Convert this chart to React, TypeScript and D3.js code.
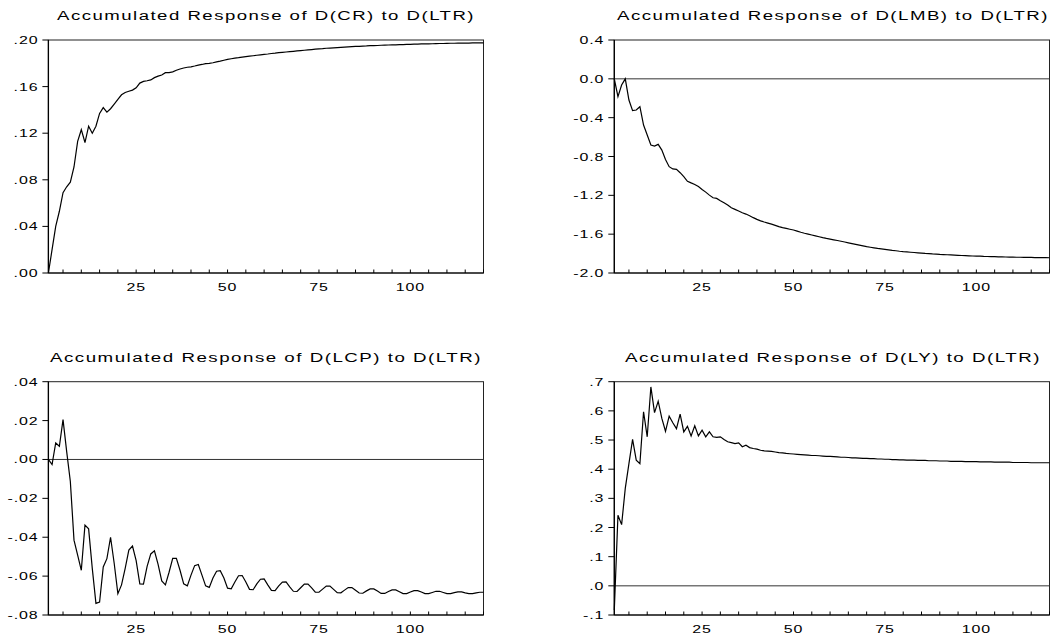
import React from "react";
import * as d3 from "d3";

// ---------- DATA ----------
const periods: number[] = Array.from({ length: 120 }, (_, i) => i + 1);

const crResponse: number[] = [
  0.000, 0.020, 0.040, 0.053, 0.069, 0.074, 0.078, 0.091, 0.113, 0.123,
  0.112, 0.126, 0.120, 0.126, 0.137, 0.142, 0.138, 0.141, 0.145, 0.149,
  0.153, 0.155, 0.156, 0.157, 0.159, 0.163, 0.1645, 0.165, 0.1657, 0.1677,
  0.169, 0.170, 0.172, 0.172, 0.1726, 0.174, 0.1751, 0.176, 0.1766, 0.177,
  0.1777, 0.1785, 0.179, 0.1797, 0.180, 0.1805, 0.1812, 0.1818, 0.1826, 0.1834,
  0.1839, 0.1844, 0.1848, 0.1853, 0.1857, 0.1861, 0.1865, 0.1869, 0.1873, 0.1877,
  0.1880, 0.1884, 0.1887, 0.1891, 0.1894, 0.1897, 0.1900, 0.1903, 0.1906, 0.1909,
  0.1912, 0.1915, 0.1918, 0.1921, 0.1924, 0.1926, 0.1929, 0.1931, 0.1933, 0.1935,
  0.1937, 0.1939, 0.1941, 0.1943, 0.1945, 0.1946, 0.1948, 0.1949, 0.1951, 0.1952,
  0.1953, 0.1955, 0.1956, 0.1957, 0.1958, 0.1959, 0.1960, 0.1961, 0.1962, 0.1963,
  0.1964, 0.1965, 0.1966, 0.1967, 0.1967, 0.1968, 0.1969, 0.1970, 0.1970, 0.1971,
  0.1972, 0.1972, 0.1973, 0.1973, 0.1974, 0.1974, 0.1975, 0.1975, 0.1976, 0.1976,
];

const lmbResponse: number[] = [
  0.000, -0.184, -0.064, 0.000, -0.218, -0.328, -0.321, -0.287, -0.476, -0.579,
  -0.682, -0.692, -0.675, -0.734, -0.830, -0.905, -0.928, -0.932, -0.967, -1.008,
  -1.055, -1.072, -1.088, -1.110, -1.140, -1.167, -1.198, -1.225, -1.232, -1.256,
  -1.277, -1.300, -1.328, -1.345, -1.362, -1.380, -1.393, -1.410, -1.430, -1.448,
  -1.463, -1.475, -1.486, -1.497, -1.509, -1.522, -1.533, -1.541, -1.549, -1.557,
  -1.568, -1.580, -1.591, -1.600, -1.609, -1.618, -1.627, -1.636, -1.644, -1.651,
  -1.658, -1.665, -1.673, -1.681, -1.689, -1.697, -1.705, -1.713, -1.721, -1.729,
  -1.735, -1.741, -1.747, -1.752, -1.757, -1.762, -1.767, -1.771, -1.776, -1.780,
  -1.783, -1.786, -1.789, -1.792, -1.795, -1.798, -1.800, -1.803, -1.805, -1.808,
  -1.810, -1.812, -1.814, -1.816, -1.818, -1.820, -1.821, -1.823, -1.825, -1.826,
  -1.827, -1.829, -1.830, -1.831, -1.832, -1.833, -1.834, -1.835, -1.836, -1.837,
  -1.838, -1.838, -1.839, -1.840, -1.840, -1.841, -1.841, -1.842, -1.842, -1.843,
];

const lcpResponse: number[] = [
  0.000, -0.0026, 0.0085, 0.0068, 0.0205, 0.004, -0.0113, -0.0415, -0.0492, -0.057,
  -0.0338, -0.0357, -0.056, -0.074, -0.0733, -0.0553, -0.051, -0.040, -0.0535, -0.069,
  -0.0645, -0.056, -0.0466, -0.0445, -0.052, -0.064, -0.0641, -0.055, -0.0486, -0.047,
  -0.054, -0.0625, -0.0645, -0.058, -0.0509, -0.0509, -0.057, -0.064, -0.065, -0.0595,
  -0.0546, -0.054, -0.0595, -0.065, -0.0658, -0.061, -0.0575, -0.0572, -0.061, -0.0662,
  -0.0665, -0.063, -0.0598, -0.0597, -0.063, -0.0668, -0.0670, -0.064, -0.0616, -0.0614,
  -0.0645, -0.0673, -0.0675, -0.065, -0.0631, -0.0630, -0.0655, -0.0678, -0.0679, -0.066,
  -0.0641, -0.0641, -0.066, -0.0682, -0.0683, -0.0667, -0.0651, -0.0651, -0.0668, -0.0685,
  -0.0686, -0.0672, -0.0659, -0.0659, -0.0673, -0.0687, -0.0688, -0.0676, -0.0666, -0.0666,
  -0.0677, -0.0689, -0.0689, -0.0679, -0.0671, -0.0671, -0.068, -0.069, -0.069, -0.0682,
  -0.0675, -0.0675, -0.0682, -0.069, -0.069, -0.0684, -0.0678, -0.0678, -0.0684, -0.069,
  -0.069, -0.0685, -0.0681, -0.0681, -0.0686, -0.069, -0.069, -0.0686, -0.0683, -0.0683,
];

const lyResponse: number[] = [
  -0.083, 0.242, 0.210, 0.334, 0.419, 0.502, 0.431, 0.419, 0.597, 0.511,
  0.682, 0.594, 0.633, 0.574, 0.530, 0.582, 0.559, 0.539, 0.589, 0.528,
  0.547, 0.514, 0.549, 0.514, 0.534, 0.511, 0.528, 0.511, 0.509, 0.511,
  0.502, 0.494, 0.491, 0.488, 0.490, 0.477, 0.482, 0.474, 0.471, 0.469,
  0.465, 0.463, 0.462, 0.461, 0.459, 0.457, 0.456, 0.454, 0.453, 0.452,
  0.451, 0.450, 0.449, 0.448, 0.447, 0.447, 0.446, 0.445, 0.444, 0.444,
  0.443, 0.442, 0.441, 0.441, 0.440, 0.439, 0.439, 0.438, 0.437, 0.437,
  0.436, 0.436, 0.435, 0.435, 0.434, 0.434, 0.433, 0.433, 0.432, 0.432,
  0.431, 0.431, 0.431, 0.430, 0.430, 0.430, 0.429, 0.429, 0.429, 0.428,
  0.428, 0.428, 0.427, 0.427, 0.427, 0.427, 0.426, 0.426, 0.426, 0.426,
  0.425, 0.425, 0.425, 0.425, 0.424, 0.424, 0.424, 0.424, 0.424, 0.423,
  0.423, 0.423, 0.423, 0.423, 0.422, 0.422, 0.422, 0.422, 0.422, 0.422,
];

const panelTitles: string[] = [
  "Accumulated Response of D(CR) to D(LTR)",
  "Accumulated Response of D(LMB) to D(LTR)",
  "Accumulated Response of D(LCP) to D(LTR)",
  "Accumulated Response of D(LY) to D(LTR)",
];

const crTicks: number[] = [0, 0.04, 0.08, 0.12, 0.16, 0.2];
const crTickLabels: string[] = [".00", ".04", ".08", ".12", ".16", ".20"];
const lmbTicks: number[] = [-2.0, -1.6, -1.2, -0.8, -0.4, 0.0, 0.4];
const lmbTickLabels: string[] = ["-2.0", "-1.6", "-1.2", "-0.8", "-0.4", "0.0", "0.4"];
const lcpTicks: number[] = [-0.08, -0.06, -0.04, -0.02, 0, 0.02, 0.04];
const lcpTickLabels: string[] = ["-.08", "-.06", "-.04", "-.02", ".00", ".02", ".04"];
const lyTicks: number[] = [-0.1, 0, 0.1, 0.2, 0.3, 0.4, 0.5, 0.6, 0.7];
const lyTickLabels: string[] = ["-.1", ".0", ".1", ".2", ".3", ".4", ".5", ".6", ".7"];

const xLabelTicks: number[] = [25, 50, 75, 100];

// ---------- LAYOUT ----------
type PanelSpec = {
  values: number[];
  title: string;
  domain: [number, number];
  ticks: number[];
  tickLabels: string[];
  zeroLine: boolean;
  left: number;
  right: number;
  top: number;
  bottom: number;
  titleX: number;
  titleW: number;
  titleY: number;
};

const panels: PanelSpec[] = [
  { values: crResponse, title: panelTitles[0], domain: [0, 0.2], ticks: crTicks, tickLabels: crTickLabels, zeroLine: false,
    left: 48.4, right: 483.5, top: 40, bottom: 273, titleX: 57, titleW: 418, titleY: 20 },
  { values: lmbResponse, title: panelTitles[1], domain: [-2.0, 0.4], ticks: lmbTicks, tickLabels: lmbTickLabels, zeroLine: true,
    left: 614.3, right: 1049.5, top: 40, bottom: 273, titleX: 617, titleW: 432, titleY: 20 },
  { values: lcpResponse, title: panelTitles[2], domain: [-0.08, 0.04], ticks: lcpTicks, tickLabels: lcpTickLabels, zeroLine: true,
    left: 48.4, right: 483.5, top: 381.7, bottom: 615, titleX: 50, titleW: 432, titleY: 362 },
  { values: lyResponse, title: panelTitles[3], domain: [-0.1, 0.7], ticks: lyTicks, tickLabels: lyTickLabels, zeroLine: true,
    left: 614.3, right: 1049.5, top: 381.7, bottom: 615, titleX: 625, titleW: 416, titleY: 362 },
];

const FONT = "'Liberation Sans', Arial, Helvetica, sans-serif";
const TICK_FS = 11;
const STRETCH = 1.45;

function Panel({ p }: { p: PanelSpec }) {
  const x = d3.scaleLinear().domain([1, 120]).range([p.left, p.right]);
  const y = d3.scaleLinear().domain(p.domain).range([p.bottom, p.top]);
  const line = d3
    .line<number>()
    .x((_, i) => x(periods[i]))
    .y((d) => y(d));
  const minorTicks = d3.range(5, 121, 5);
  return (
    <g>
      <text
        x={p.titleX}
        y={p.titleY}
        fontFamily={FONT}
        fontSize={12.5}
        letterSpacing={1}
        textLength={p.titleW}
        lengthAdjust="spacingAndGlyphs"
        fill="#000"
      >
        {p.title}
      </text>
      {/* frame */}
      <rect x={p.left} y={p.top} width={p.right - p.left} height={p.bottom - p.top} fill="none" stroke="#222" strokeWidth={1} />
      {p.zeroLine && (
        <line x1={p.left} x2={p.right} y1={y(0)} y2={y(0)} stroke="#333" strokeWidth={1} />
      )}
      {/* y ticks */}
      {p.ticks.map((t, i) => (
        <g key={"y" + i}>
          <line x1={p.left - 6} x2={p.left} y1={y(t)} y2={y(t)} stroke="#000" strokeWidth={1} />
          <text
            transform={`translate(${p.left - 10},${y(t) + 4}) scale(${STRETCH},1)`}
            textAnchor="end"
            fontFamily={FONT}
            fontSize={TICK_FS}
            letterSpacing={0.6}
            fill="#000"
          >
            {p.tickLabels[i]}
          </text>
        </g>
      ))}
      {/* x ticks */}
      {minorTicks.map((t) => (
        <line key={"x" + t} x1={x(t)} x2={x(t)} y1={p.bottom} y2={p.bottom - 3.5} stroke="#000" strokeWidth={1} />
      ))}
      {xLabelTicks.map((t) => (
        <text
          key={"xl" + t}
          transform={`translate(${x(t)},${p.bottom + 18}) scale(${STRETCH},1)`}
          textAnchor="middle"
          fontFamily={FONT}
          fontSize={TICK_FS}
          letterSpacing={0.6}
          fill="#000"
        >
          {t}
        </text>
      ))}
      {/* left axis */}
      <line x1={p.left} x2={p.left} y1={p.top} y2={p.bottom} stroke="#000" strokeWidth={1.3} />
      <line x1={p.left} x2={p.right} y1={p.bottom} y2={p.bottom} stroke="#000" strokeWidth={1.2} />
      <path d={line(p.values) || ""} fill="none" stroke="#000" strokeWidth={1.2} strokeLinejoin="miter" />
    </g>
  );
}

export default function App() {
  return (
    <div style={{ position: "absolute", left: 0, top: 0 }}>
      <svg width={1055} height={642} style={{ display: "block", background: "#fff" }}>
        <rect x={0} y={0} width={1055} height={642} fill="#fff" />
        {panels.map((p, i) => (
          <Panel key={i} p={p} />
        ))}
      </svg>
    </div>
  );
}
